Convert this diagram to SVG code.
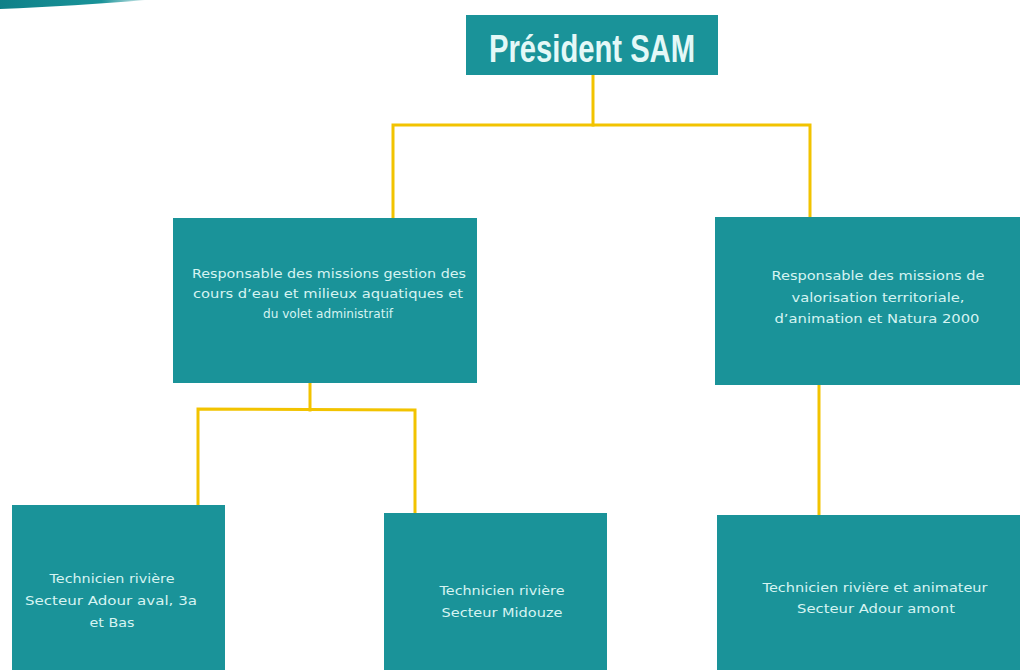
<svg xmlns="http://www.w3.org/2000/svg" width="1020" height="670" viewBox="0 0 1020 670">
<style>
.box{fill:#1a9399}
.t{font-family:"DejaVu Sans","Liberation Sans",sans-serif;font-size:13px;fill:#d6f4f2;text-anchor:middle}
.title{font-family:"Liberation Sans","DejaVu Sans",sans-serif;font-size:38px;font-weight:bold;fill:#e4f8f7;text-anchor:middle}
.c{fill:none;stroke:#f2c300;stroke-width:3;stroke-linejoin:miter;stroke-linecap:square}
</style>
<defs>
<linearGradient id="sw" x1="0" y1="0" x2="1" y2="0">
<stop offset="0" stop-color="#0f8088"/>
<stop offset="0.7" stop-color="#1a9399"/>
<stop offset="1" stop-color="#1a9399" stop-opacity="0.2"/>
</linearGradient>
</defs>
<rect width="1020" height="670" fill="#ffffff"/>
<path d="M0,0 H145 C100,4 50,7 0,9 Z" fill="url(#sw)"/>
<g id="connectors">
<polyline class="c" points="593,75 593,125"/>
<polyline class="c" points="393,217 393,125 810,125 810,217"/>
<polyline class="c" points="310,383 310,410"/>
<polyline class="c" points="198,505 198,409 415,410 415,512"/>
<polyline class="c" points="819,385 819,514"/>
</g>
<g id="president">
<rect class="box" x="466" y="15" width="252" height="60"/>
<text class="title" x="592" y="62" textLength="206" lengthAdjust="spacingAndGlyphs">Président SAM</text>
</g>
<g id="resp-gestion">
<rect class="box" x="173" y="218" width="304" height="165"/>
<text class="t" x="329" y="278" textLength="274" lengthAdjust="spacingAndGlyphs">Responsable des missions gestion des</text>
<text class="t" x="328" y="298" textLength="270" lengthAdjust="spacingAndGlyphs">cours d’eau et milieux aquatiques et</text>
<text class="t" x="328" y="318" textLength="130" lengthAdjust="spacingAndGlyphs">du volet administratif</text>
</g>
<g id="resp-valorisation">
<rect class="box" x="715" y="217" width="305" height="168"/>
<text class="t" x="878" y="280" textLength="213" lengthAdjust="spacingAndGlyphs">Responsable des missions de</text>
<text class="t" x="878" y="302" textLength="173" lengthAdjust="spacingAndGlyphs">valorisation territoriale,</text>
<text class="t" x="877" y="323" textLength="205" lengthAdjust="spacingAndGlyphs">d’animation et Natura 2000</text>
</g>
<g id="tech-adour-aval">
<rect class="box" x="12" y="505" width="213" height="165"/>
<text class="t" x="112" y="583" textLength="125" lengthAdjust="spacingAndGlyphs">Technicien rivière</text>
<text class="t" x="111" y="605" textLength="172" lengthAdjust="spacingAndGlyphs">Secteur Adour aval, 3a</text>
<text class="t" x="112" y="627" textLength="45" lengthAdjust="spacingAndGlyphs">et Bas</text>
</g>
<g id="tech-midouze">
<rect class="box" x="384" y="513" width="223" height="157"/>
<text class="t" x="502" y="595" textLength="125" lengthAdjust="spacingAndGlyphs">Technicien rivière</text>
<text class="t" x="502" y="617" textLength="121" lengthAdjust="spacingAndGlyphs">Secteur Midouze</text>
</g>
<g id="tech-adour-amont">
<rect class="box" x="717" y="515" width="303" height="155"/>
<text class="t" x="875" y="592" textLength="225" lengthAdjust="spacingAndGlyphs">Technicien rivière et animateur</text>
<text class="t" x="876" y="613" textLength="158" lengthAdjust="spacingAndGlyphs">Secteur Adour amont</text>
</g>
</svg>
